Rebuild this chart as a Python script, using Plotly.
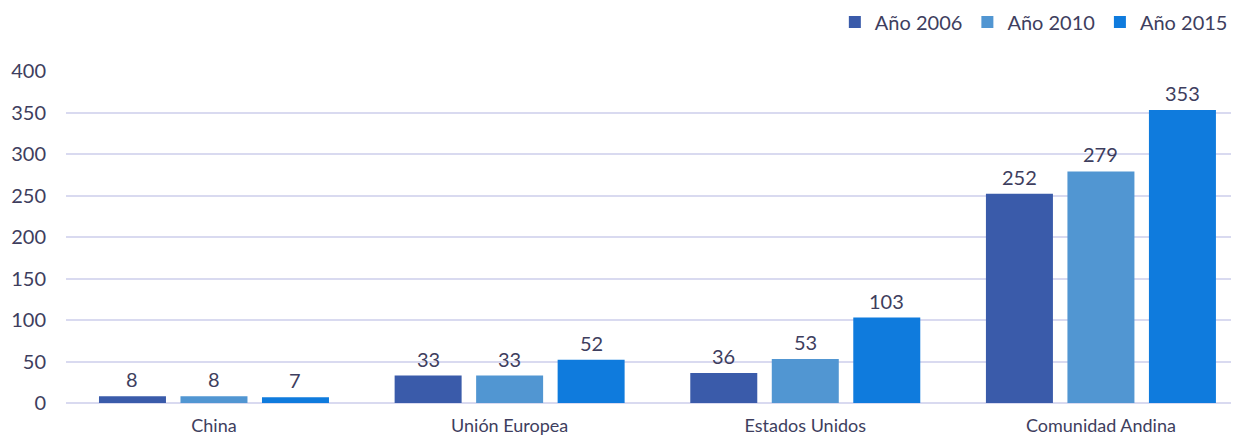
import plotly.graph_objects as go

categories = ["China", "Unión Europea", "Estados Unidos", "Comunidad Andina"]
series_names = ["Año 2006", "Año 2010", "Año 2015"]
v2006 = [8, 33, 36, 252]
v2010 = [8, 33, 53, 279]
v2015 = [7, 52, 103, 353]
y_ticks = [0, 50, 100, 150, 200, 250, 300, 350, 400]

colors = ["#3A5BAA", "#5196D2", "#0F7BDD"]
text_color = "#3E3E5E"
font_family = "Lato, Open Sans, sans-serif"
slot_px = 81.5  # pixel spacing between grouped bars (style)

fig = go.Figure()
for i, (name, vals, col) in enumerate(zip(series_names, [v2006, v2010, v2015], colors)):
    fig.add_trace(go.Bar(
        x=categories, y=vals, name=name,
        marker=dict(color=col, line=dict(width=0)),
        cliponaxis=False,
    ))
    for c, v in zip(categories, vals):
        fig.add_annotation(
            x=c, y=v, xref="x", yref="y", text=str(v), showarrow=False,
            xshift=(i - 1) * slot_px, yshift=17, yanchor="middle",
            font=dict(size=20, color=text_color, family=font_family),
        )

# the page body has an 8px default margin, so the figure is sized to fit
fig.update_layout(
    width=1231, height=431,
    margin=dict(l=58, r=0, t=63, b=36, autoexpand=False),
    paper_bgcolor="white", plot_bgcolor="white",
    barmode="group", bargap=0.173, bargroupgap=0.178,
    font=dict(family=font_family, size=20, color=text_color),
    showlegend=True,
    legend=dict(orientation="h", xref="container", yref="container",
                x=0.995, xanchor="right", y=0.9675, yanchor="middle",
                font=dict(size=20, color=text_color), itemwidth=30,
                traceorder="normal"),
)
fig.update_xaxes(
    type="category", range=[-0.5005, 3.467], automargin=False,
    showgrid=False, showline=False, ticks="",
    tickfont=dict(size=18, color=text_color), ticklabelstandoff=10,
)
fig.update_yaxes(
    range=[0, 400], tickvals=y_ticks, automargin=False,
    showgrid=True, gridcolor="#D9DAF0", gridwidth=2,
    zeroline=True, zerolinecolor="#D9DAF0", zerolinewidth=2,
    showline=False, ticks="",
    tickfont=dict(size=20, color=text_color), ticklabelstandoff=19,
)

fig.write_html("out.html")
